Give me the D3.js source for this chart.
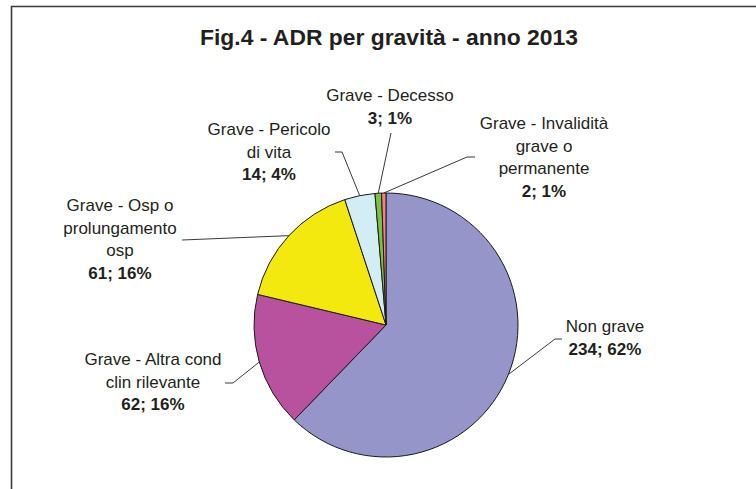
<!DOCTYPE html>
<html>
<head>
<meta charset="utf-8">
<script src="https://cdn.jsdelivr.net/npm/d3@7"></script>
<style>
  html, body { margin: 0; padding: 0; background: #fff; }
  svg { display: block; }
  text { font-family: "Liberation Sans", Arial, sans-serif; fill: #231f20; }
</style>
</head>
<body>
<svg id="chart" width="756" height="489"></svg>
<script>
// ---- data ----
const title = "Fig.4 - ADR per gravità - anno 2013";
const categories = [
  "Non grave",
  "Grave - Altra cond clin rilevante",
  "Grave - Osp o prolungamento osp",
  "Grave - Pericolo di vita",
  "Grave - Decesso",
  "Grave - Invalidità grave o permanente"
];
const labelLines = [
  ["Non grave"],
  ["Grave - Altra cond", "clin rilevante"],
  ["Grave - Osp o", "prolungamento", "osp"],
  ["Grave - Pericolo", "di vita"],
  ["Grave - Decesso"],
  ["Grave - Invalidità", "grave o", "permanente"]
];
const values = [234, 62, 61, 14, 3, 2];
const colors = ["#9595c9", "#b8529e", "#f3e90f", "#d3edf4", "#7cc242", "#f08282"];

// ---- layout (label placement, not data) ----
const labelLayout = [
  { x: 605, y: 332, elbow: [[555, 339], [562, 339]] },
  { x: 153, y: 365, elbow: [[233, 383], [225, 383]] },
  { x: 120, y: 211, elbow: [[182, 240]] },
  { x: 269, y: 135, elbow: [[342, 152], [335, 152]] },
  { x: 390, y: 101, elbow: [[391, 133]] },
  { x: 544, y: 129, elbow: [[467, 157], [475, 157]] }
];

const svg = d3.select("#chart");
const W = 756, H = 489;
const cx = 386, cy = 325, R = 132;
const lineH = 22.5;

// frame
svg.append("path")
  .attr("d", `M11.5,${H} L11.5,6.5 L${W},6.5`)
  .attr("fill", "none").attr("stroke", "#3a3a3a").attr("stroke-width", 1.6);

// title
svg.append("text")
  .attr("x", 389).attr("y", 45)
  .attr("text-anchor", "middle")
  .attr("font-size", 22.5).attr("font-weight", "bold")
  .attr("textLength", 378).attr("lengthAdjust", "spacingAndGlyphs")
  .text(title);

const total = d3.sum(values);
const pie = d3.pie().sort(null).value(d => d)(values);
const arc = d3.arc().innerRadius(0).outerRadius(R);

const g = svg.append("g").attr("transform", `translate(${cx},${cy})`);
g.selectAll("path.slice").data(pie).join("path")
  .attr("class", "slice")
  .attr("d", arc)
  .attr("fill", (d, i) => colors[i])
  .attr("stroke", "#1a1a1a").attr("stroke-width", 1);

// leader lines
pie.forEach((d, i) => {
  const a = (d.startAngle + d.endAngle) / 2;
  const px = cx + Math.sin(a) * R, py = cy - Math.cos(a) * R;
  const pts = [[px, py], ...labelLayout[i].elbow];
  svg.append("path")
    .attr("d", d3.line()(pts))
    .attr("fill", "none").attr("stroke", "#222").attr("stroke-width", 0.9);
});

// labels
pie.forEach((d, i) => {
  const L = labelLayout[i];
  const t = svg.append("text").attr("text-anchor", "middle").attr("font-size", 17);
  labelLines[i].forEach((ln, j) => {
    t.append("tspan").attr("x", L.x).attr("y", L.y + j * lineH).text(ln);
  });
  const pct = Math.round(values[i] / total * 100);
  t.append("tspan").attr("x", L.x).attr("y", L.y + labelLines[i].length * lineH)
    .attr("font-weight", "bold").text(`${values[i]}; ${pct}%`);
});
</script>
</body>
</html>
